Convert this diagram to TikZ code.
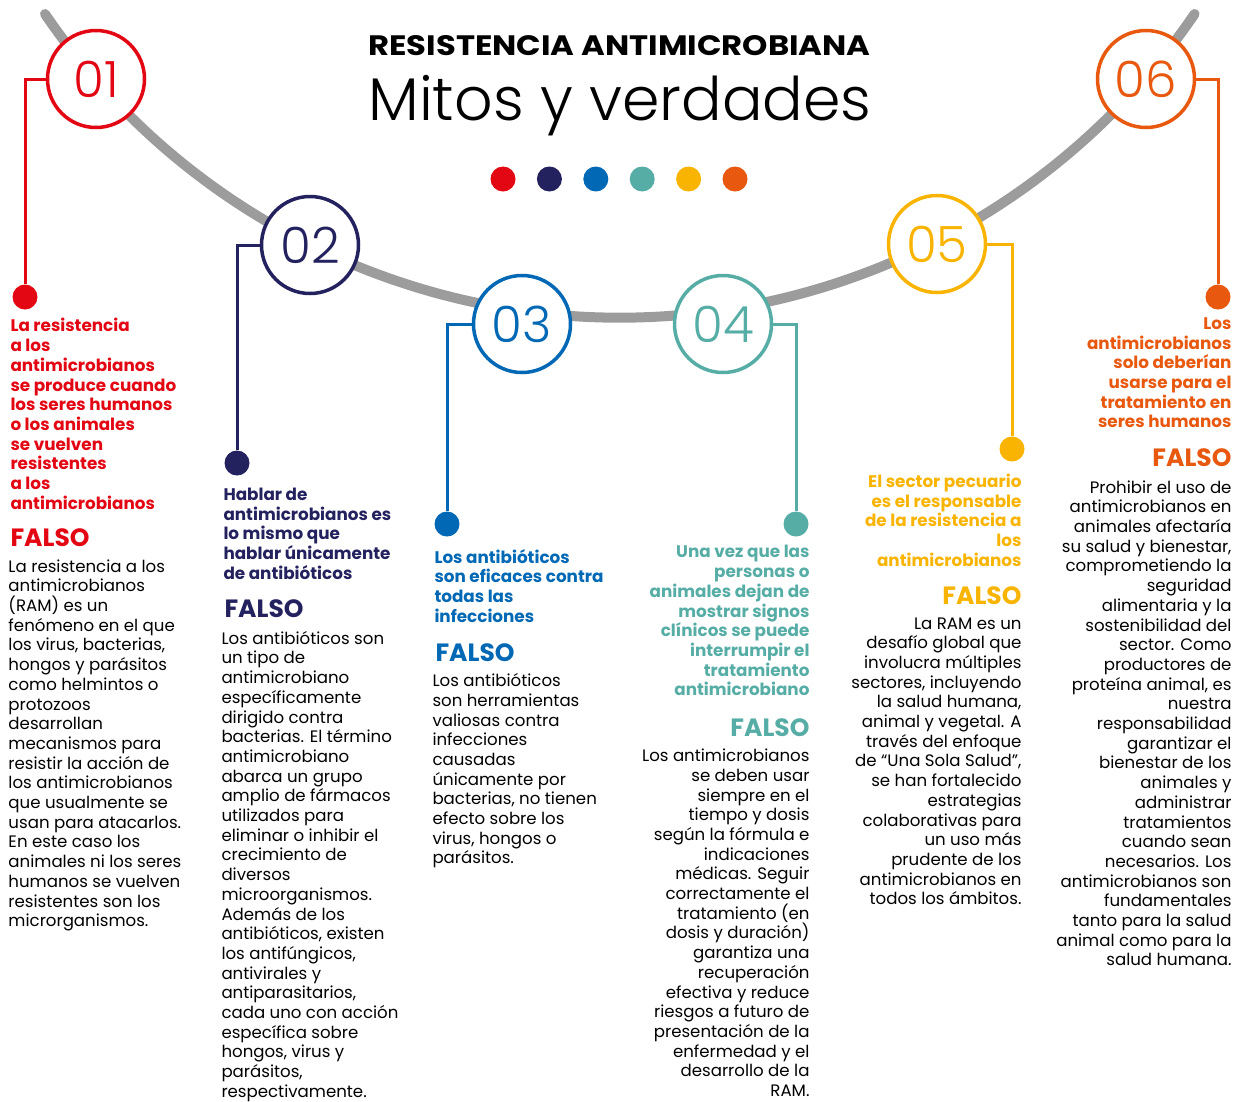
\documentclass[tikz,border=0pt]{standalone}
\usepackage{fontspec}
\setmainfont{Poppins}
\newfontfamily\ligera{Poppins Light}
\usetikzlibrary{positioning}
\definecolor{rojo}{HTML}{E30613}
\definecolor{marino}{HTML}{23215E}
\definecolor{azul}{HTML}{0068B4}
\definecolor{verde}{HTML}{56ADA6}
\definecolor{amarillo}{HTML}{F8B400}
\definecolor{naranja}{HTML}{E8580E}
\definecolor{gris}{HTML}{9C9C9C}
\tikzset{
every picture/.style={
line width=1pt
}}

\begin{document}
\begin{tikzpicture}[x=1pt, y=-1pt,
num/.style = {circle, draw, fill=white, line width=3.5pt, minimum size=97pt, inner sep=0pt, font=\ligera\fontsize{50}{50}\selectfont},
punto/.style = {circle, fill, minimum size=25pt, inner sep=0pt},
enlace/.style = {line width=3pt},
mito/.style = {inner sep=0pt, font=\bfseries\fontsize{16.8}{19.7}\selectfont},
cuerpo/.style = {inner sep=0pt, font=\fontsize{16.6}{19.7}\selectfont},
falso/.style = {inner sep=0pt, font=\bfseries\fontsize{25}{25}\selectfont}]

  \useasboundingbox (0,0) rectangle (1241,1101);

  \draw[gris, line width=10pt, line cap=round] (45,14) arc[start angle=214.3, end angle=325.7, radius=695.8pt];

  \node[anchor=base west, inner sep=0pt] (titulo) at (368,55) {\resizebox{502pt}{20pt}{\bfseries RESISTENCIA ANTIMICROBIANA}};
  \node[anchor=base west, inner sep=0pt] (subtitulo) at (368,120) {\resizebox{503pt}{!}{\ligera Mitos y verdades}};

  \foreach \col [count=\i] in {rojo, marino, azul, verde, amarillo, naranja}
    \node[punto, fill=\col] (p\i) at ({503+46.4*(\i-1)},179) {};

  \node[num, draw=rojo, text=rojo] (c1) at (96,79) {01};
  \node[num, draw=marino, text=marino] (c2) at (310,245) {02};
  \node[num, draw=azul, text=azul] (c3) at (522,324) {03};
  \node[num, draw=verde, text=verde] (c4) at (723,324) {04};
  \node[num, draw=amarillo, text=amarillo] (c5) at (937,244) {05};
  \node[num, draw=naranja, text=naranja] (c6) at (1146,79) {06};

  \node[punto, fill=rojo] (d1) at (25,297) {};
  \node[punto, fill=marino] (d2) at (237,463) {};
  \node[punto, fill=azul] (d3) at (447,524) {};
  \node[punto, fill=verde] (d4) at (796,524) {};
  \node[punto, fill=amarillo] (d5) at (1012,449) {};
  \node[punto, fill=naranja] (d6) at (1218,297) {};

  \draw[enlace, rojo] (c1.west) -| (d1);
  \draw[enlace, marino] (c2.west) -| (d2);
  \draw[enlace, azul] (c3.west) -| (d3);
  \draw[enlace, verde] (c4.east) -| (d4);
  \draw[enlace, amarillo] (c5.east) -| (d5);
  \draw[enlace, naranja] (c6.east) -| (d6);

  % 01
  \node[mito, text=rojo, align=left, anchor=north west] (m1) at (10,318) {La resistencia\\a los\\antimicrobianos\\se produce cuando\\los seres humanos\\o los animales\\se vuelven\\resistentes\\a los\\antimicrobianos};
  \node[falso, text=rojo, anchor=base west] (f1) at (10,546) {FALSO};
  \node[cuerpo, align=left, anchor=north west] (t1) at (8,559) {La resistencia a los\\antimicrobianos\\(RAM) es un\\fenómeno en el que\\los virus, bacterias,\\hongos y parásitos\\como helmintos o\\protozoos\\desarrollan\\mecanismos para\\resistir la acción de\\los antimicrobianos\\que usualmente se\\usan para atacarlos.\\En este caso los\\animales ni los seres\\humanos se vuelven\\resistentes son los\\microrganismos.};

  % 02
  \node[mito, text=marino, align=left, anchor=north west] (m2) at (223,487.5) {Hablar de\\antimicrobianos es\\lo mismo que\\hablar únicamente\\de antibióticos};
  \node[falso, text=marino, anchor=base west] (f2) at (224,617) {FALSO};
  \node[cuerpo, align=left, anchor=north west] (t2) at (221,630.6) {Los antibióticos son\\un tipo de\\antimicrobiano\\específicamente\\dirigido contra\\bacterias. El término\\antimicrobiano\\abarca un grupo\\amplio de fármacos\\utilizados para\\eliminar o inhibir el\\crecimiento de\\diversos\\microorganismos.\\Además de los\\antibióticos, existen\\los antifúngicos,\\antivirales y\\antiparasitarios,\\cada uno con acción\\específica sobre\\hongos, virus y\\parásitos,\\respectivamente.};

  % 03
  \node[mito, text=azul, align=left, anchor=north west] (m3) at (434,548.5) {Los antibióticos\\son eficaces contra\\todas las\\infecciones};
  \node[falso, text=azul, anchor=base west] (f3) at (435,661) {FALSO};
  \node[cuerpo, align=left, anchor=north west] (t3) at (432,673) {Los antibióticos\\son herramientas\\valiosas contra\\infecciones\\causadas\\únicamente por\\bacterias, no tienen\\efecto sobre los\\virus, hongos o\\parásitos.};

  % 04
  \node[mito, text=verde, align=right, anchor=north east] (m4) at (810,545) {Una vez que las\\personas o\\animales dejan de\\mostrar signos\\clínicos se puede\\interrumpir el\\tratamiento\\antimicrobiano};
  \node[falso, text=verde, anchor=base east] (f4) at (810,736) {FALSO};
  \node[cuerpo, align=right, anchor=north east] (t4) at (810,748.5) {Los antimicrobianos\\se deben usar\\siempre en el\\tiempo y dosis\\según la fórmula e\\indicaciones\\médicas. Seguir\\correctamente el\\tratamiento (en\\dosis y duración)\\garantiza una\\recuperación\\efectiva y reduce\\riesgos a futuro de\\presentación de la\\enfermedad y el\\desarrollo de la\\RAM.};

  % 05
  \node[mito, text=amarillo, align=right, anchor=north east] (m5) at (1022,473.5) {El sector pecuario\\es el responsable\\de la resistencia a\\los\\antimicrobianos};
  \node[falso, text=amarillo, anchor=base east] (f5) at (1022,604) {FALSO};
  \node[cuerpo, align=right, anchor=north east] (t5) at (1022,617) {La RAM es un\\desafío global que\\involucra múltiples\\sectores, incluyendo\\la salud humana,\\animal y vegetal. A\\través del enfoque\\de “Una Sola Salud”,\\se han fortalecido\\estrategias\\colaborativas para\\un uso más\\prudente de los\\antimicrobianos en\\todos los ámbitos.};

  % 06
  \node[mito, text=naranja, align=right, anchor=north east] (m6) at (1232,317) {Los\\antimicrobianos\\solo deberían\\usarse para el\\tratamiento en\\seres humanos};
  \node[falso, text=naranja, anchor=base east] (f6) at (1232,466) {FALSO};
  \node[cuerpo, align=right, anchor=north east] (t6) at (1232,480) {Prohibir el uso de\\antimicrobianos en\\animales afectaría\\su salud y bienestar,\\comprometiendo la\\seguridad\\alimentaria y la\\sostenibilidad del\\sector. Como\\productores de\\proteína animal, es\\nuestra\\responsabilidad\\garantizar el\\bienestar de los\\animales y\\administrar\\tratamientos\\cuando sean\\necesarios. Los\\antimicrobianos son\\fundamentales\\tanto para la salud\\animal como para la\\salud humana.};

\end{tikzpicture}
\end{document}
